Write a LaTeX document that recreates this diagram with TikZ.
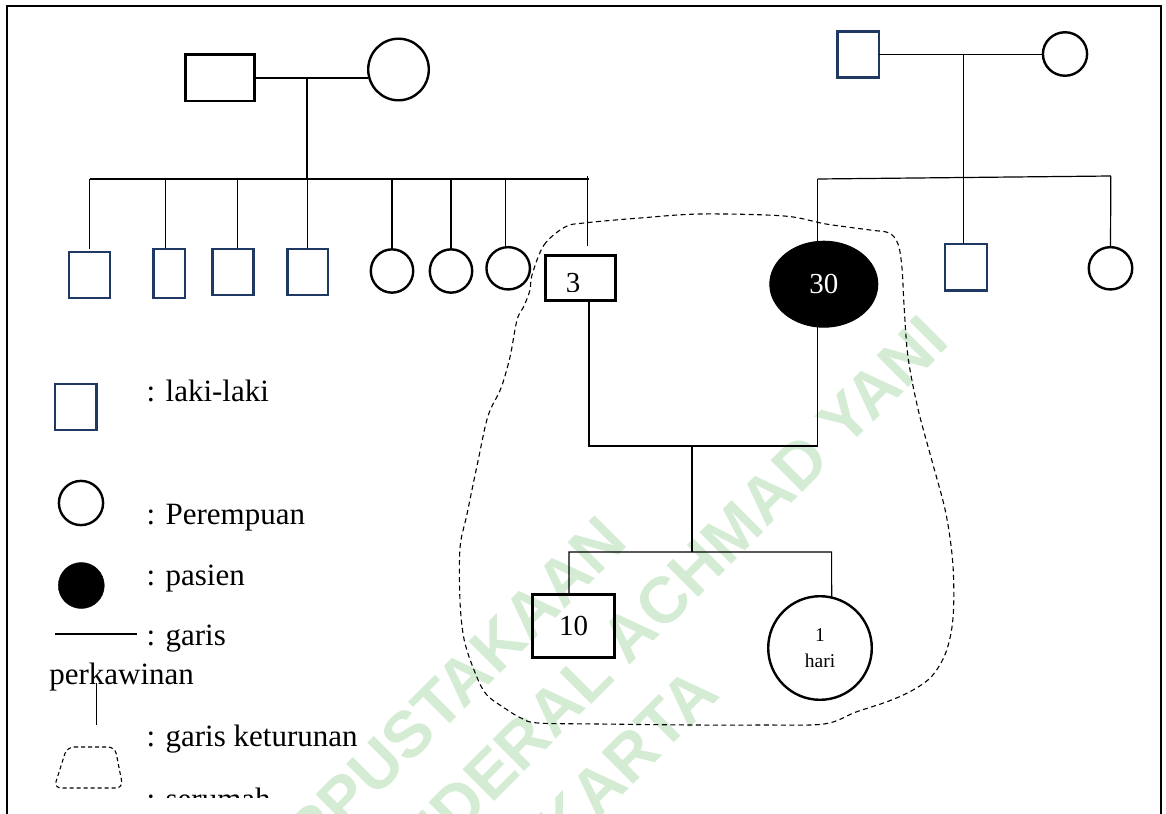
\documentclass[tikz,border=0pt]{standalone}
\usepackage{fontspec}
\setmainfont{Liberation Serif}
\newfontfamily\wmfont{Liberation Sans}
\usetikzlibrary{shapes.geometric}
\definecolor{navy}{RGB}{31,56,100}
\definecolor{wm}{RGB}{212,235,212}
\begin{document}
\begin{tikzpicture}[x=1pt,y=-1pt,
  every node/.style={inner sep=0pt, outer sep=0pt},
  mbox/.style={draw=black, line width=2.6pt, rectangle},
  nbox/.style={draw=navy, line width=2.3pt, rectangle},
  fcirc/.style={draw=black, line width=2.4pt, ellipse},
  link/.style={line width=1.2pt, draw=black},
  lbl/.style={font=\fontsize{31}{38}\selectfont, anchor=base west},
  numf/.style={font=\fontsize{29}{34}\selectfont},
  hh/.style={dash pattern=on 5pt off 3.5pt, line width=1.1pt}
]
\useasboundingbox (0,0) rectangle (1166,813);
% watermark
\begin{scope}
\clip (0,0) rectangle (1166,813);
\node[rotate=45, text=wm, font=\wmfont\bfseries\fontsize{65}{86}\selectfont, align=center] (wmk) at (485,779)
  {PERPUSTAKAAN\\UNIVERSITAS JENDERAL ACHMAD YANI\\YOGYAKARTA};
\end{scope}
% frame
\draw[line width=2.5pt] (7,820) -- (7,6) -- (1161,6) -- (1161,820);

% ---------- left grandparents
\node[mbox, minimum width=69.4pt, minimum height=46.4pt] (gfA) at (220,78) {};
\node[fcirc, minimum width=60.6pt, minimum height=61.6pt] (gmA) at (398.5,69.5) {};
\draw[link] (gfA.east) -- (gfA.east -| gmA.west);
\coordinate (mA) at (307,78);
\coordinate (sA) at (307,179);
\coordinate (sAl) at (89.5,179);
\coordinate (sAr) at (589,179);
\coordinate (hbtopA) at (587.4,176.5);
\coordinate (hbtop) at (587.4,245.7);
\draw[link] (mA) -- (sA);
\draw[link] (sAl) -- (sAr);

% children
\node[nbox, minimum width=41.3pt, minimum height=46pt] (cA1) at (89.5,275) {};
\node[nbox, minimum width=31.7pt, minimum height=49pt] (cA2) at (169.3,273.3) {};
\node[nbox, minimum width=41pt, minimum height=46pt] (cA3) at (233,272) {};
\node[nbox, minimum width=40.6pt, minimum height=46pt] (cA4) at (307.7,272) {};
\node[fcirc, minimum width=42.4pt, minimum height=43.3pt] (cA5) at (392,271) {};
\node[fcirc, minimum width=42.4pt, minimum height=43.3pt] (cA6) at (451,271) {};
\node[fcirc, minimum width=43.5pt, minimum height=42.3pt] (cA7) at (508.2,268.3) {};
\draw[link] (cA1.north |- sA) -- ([yshift=3pt]cA1.north);
\draw[link] ([xshift=-4pt]cA2.north |- sA) -- ([xshift=-4pt,yshift=1pt]cA2.north);
\draw[link] ([xshift=4.7pt]cA3.north |- sA) -- ([xshift=4.7pt,yshift=1pt]cA3.north);
\draw[link] (cA4.north |- sA) -- ([yshift=1pt]cA4.north);
\draw[link] (cA5.north |- sA) -- (cA5.north);
\draw[link] (cA6.north |- sA) -- (cA6.north);
\draw[link] (cA7.98 |- sA) -- (cA7.98);
\draw[link] (hbtopA) -- (hbtop);

% husband
\node[mbox, minimum width=70.4pt, minimum height=45pt] (hb) at (580.5,277.7) {};
\begin{scope}
\clip (545,255) rectangle (616,291.5);
\node[numf, anchor=base] (three) at (573,292.5) {3};
\end{scope}

% ---------- right grandparents
\node[nbox, minimum width=41.2pt, minimum height=46pt] (gfB) at (858.2,54.5) {};
\node[fcirc, minimum width=44.2pt, minimum height=43.5pt] (gmB) at (1065,54) {};
\draw[link] (gfB.east) -- (gfB.east -| gmB.west);
\coordinate (mB) at (963.5,54);
\coordinate (sBl) at (817.6,179);
\coordinate (sBr) at (1110.8,176);
\draw[link] (sBl) -- (sBr);

% patient
\node[draw=black, fill=black, line width=1pt, ellipse, minimum width=108pt, minimum height=86pt,
      text=white, numf] (pt) at (823.8,284.2) {30};
\node[nbox, minimum width=41.6pt, minimum height=46.6pt] (bB) at (966,267.2) {};
\node[fcirc, minimum width=43.5pt, minimum height=42.3pt] (sB) at (1110.5,268.3) {};
\draw[link] (mB) -- (mB |- bB.north);
\draw[link] (sBl) -- (sBl |- pt.north);
\draw[link] (sBr) -- (sB.north);

% ---------- nuclear family
\coordinate (cpl) at (589,446);
\coordinate (cpr) at (817.6,446);
\coordinate (cpm) at (692,446);
\coordinate (kidsm) at (692,552);
\coordinate (kidsl) at (569,552);
\coordinate (kidsr) at (831.6,552);
\node[mbox, minimum width=82.4pt, minimum height=63.4pt, numf] (k1) at (573.5,626) {10};
\node[fcirc, minimum size=103.6pt, align=center, font=\fontsize{19.5}{26.6}\selectfont] (k2) at (820,648) {1\\hari};
\draw[link] (hb.south -| cpl) -- (cpl) -- (cpr) -- (pt.south -| cpr);
\draw[link] (cpm) -- (kidsm);
\draw[link] (kidsl |- k1.north) -- (kidsl) -- (kidsr) -- (k2.77);

% household outline
\draw[hh] plot[smooth cycle, tension=0.55] coordinates {
 (532,275) (544,245) (565,227) (584,223) (640,218) (701,214) (784,216) (826,224) (870,230)
 (889,233) (898,244) (902,268) (904,305) (908,357) (918,409) (932,461) (946,514) (953,566)
 (953,618) (946,652) (932,676) (913,690) (889,701) (856,712) (824,724) (760,725) (694,725)
 (600,724) (538,723) (521,718) (506,709) (486,694) (474,670) (464,639) (460,601) (460,548)
 (467,514) (478,461) (488,416) (501,388) (510,357) (517,320) (524,306) (530,290)};

% ---------- legend
\node[nbox, minimum width=41.4pt, minimum height=46pt] (lgm) at (75.8,406.8) {};
\node[lbl] (lgmt) at (146.7,401.7) {: laki-laki};
\node[fcirc, minimum size=44.2pt] (lgf) at (81,503) {};
\node[lbl] (lgft) at (146.7,524) {: Perempuan};
\node[draw=black, fill=black, circle, minimum size=46pt] (lgp) at (81.3,585.5) {};
\node[lbl] (lgpt) at (146.7,585) {: pasien};
\coordinate (lgl1) at (55,634);
\coordinate (lgl2) at (137,634);
\draw[link] (lgl1) -- (lgl2);
\node[lbl] (lglt) at (146.7,645) {: garis};
\node[lbl] (lglt2) at (49.3,684) {perkawinan};
\coordinate (lgv1) at (96.7,683);
\coordinate (lgv2) at (96.7,725);
\draw[link] (lgv1) -- (lgv2);
\node[lbl] (lgvt) at (146.7,746.7) {: garis keturunan};
\draw[dash pattern=on 4pt off 3pt, line width=1.1pt, rounded corners=7pt]
  (67,747) -- (115,747) -- (123,788) -- (54,788) -- cycle;
\begin{scope}
\clip (0,0) rectangle (1166,797);
\node[lbl] (lgst) at (146.7,809) {: serumah};
\end{scope}
\end{tikzpicture}
\end{document}
